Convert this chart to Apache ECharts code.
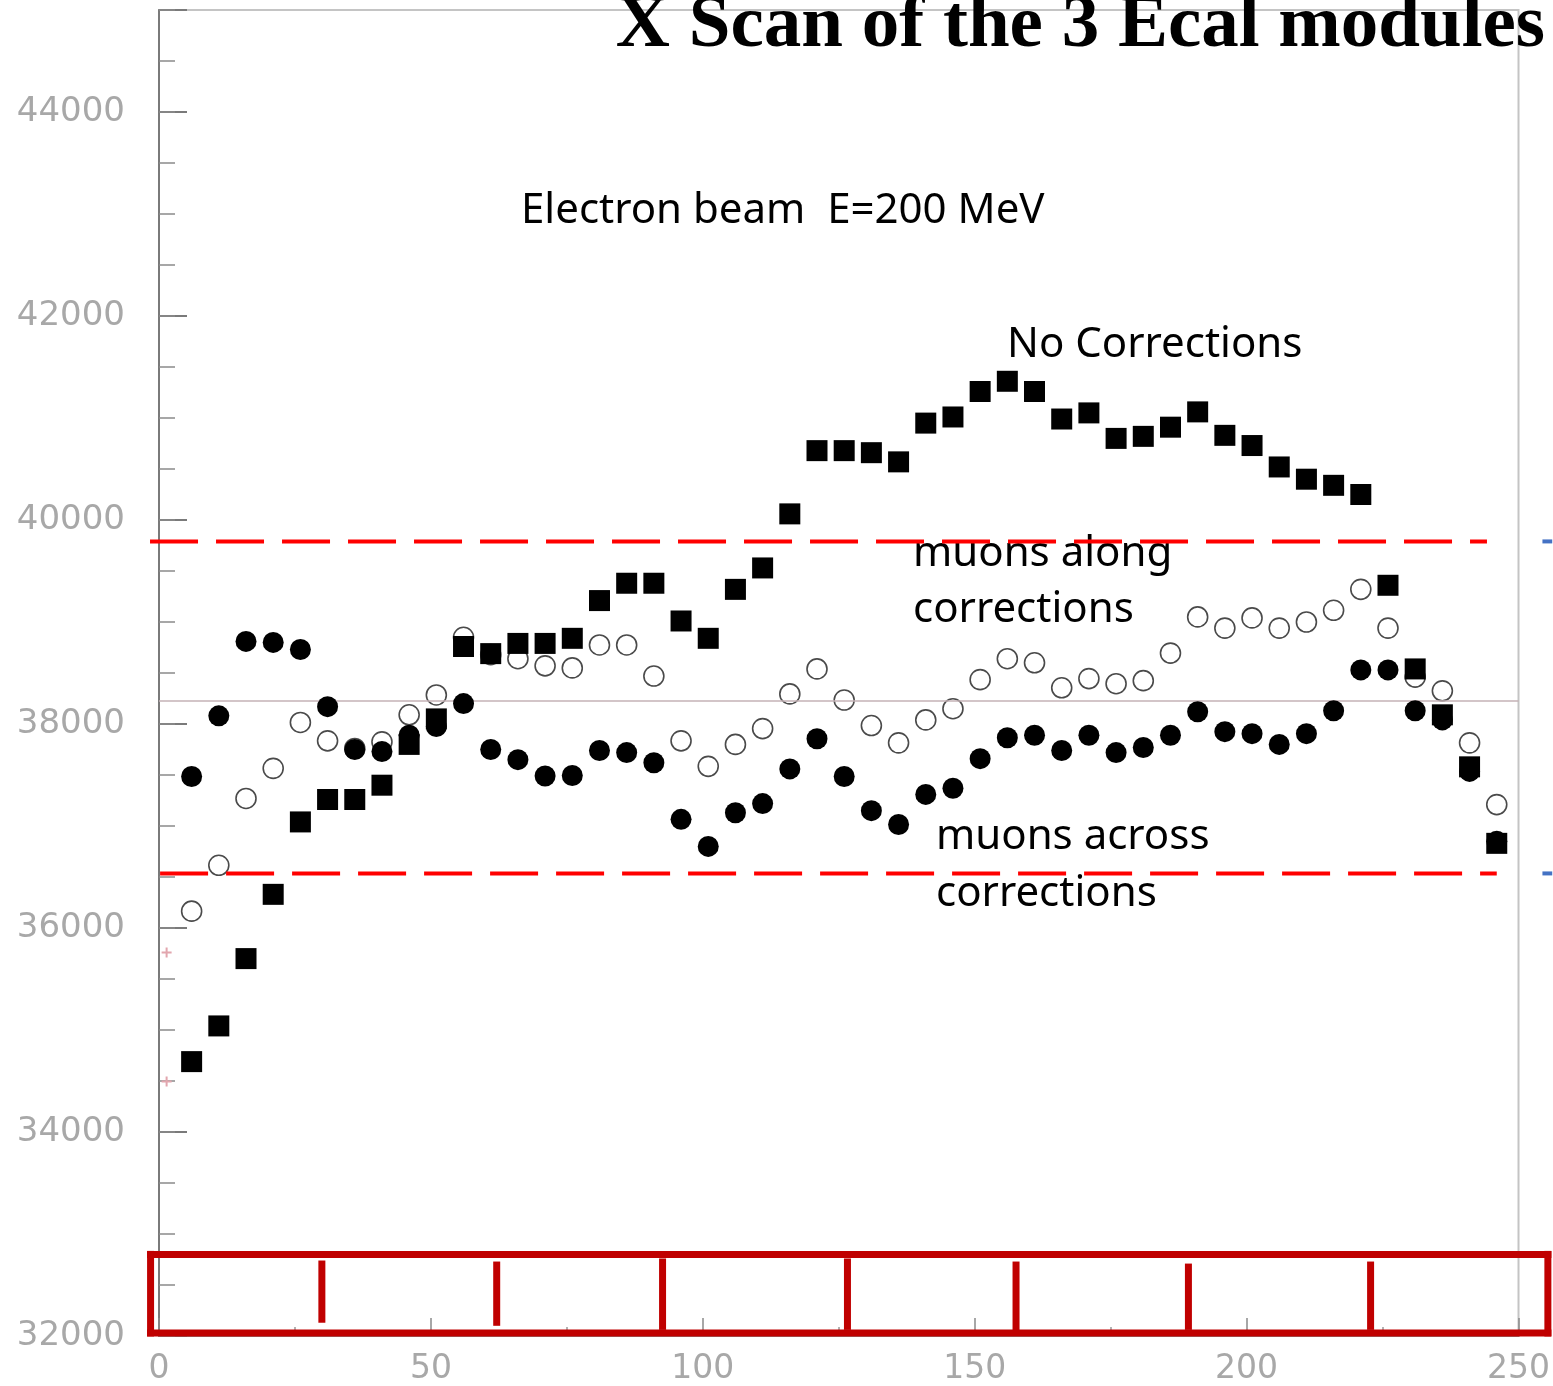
<!DOCTYPE html>
<html>
<head>
<meta charset="utf-8">
<script src="https://cdn.jsdelivr.net/npm/echarts@6/dist/echarts.min.js"></script>
<style>
  html, body { margin: 0; padding: 0; background: #fff; }
  #chart { width: 1553px; height: 1386px; }
</style>
</head>
<body>
<div id="chart"></div>
<script>
// scan position (x) for every measured point
const xScan = [6, 11, 16, 21, 26, 31, 36, 41, 46, 51, 56, 61, 66, 71, 76, 81, 86, 91, 96, 101,
  106, 111, 116, 121, 126, 131, 136, 141, 146, 151, 156, 161, 166, 171, 176, 181, 186, 191, 196, 201,
  206, 211, 216, 221, 226, 231, 236, 241, 246];

// filled squares
const noCorr = [34690, 35040, 35700, 36330, 37040, 37260, 37260, 37400, 37800, 38050,
  38760, 38690, 38790, 38790, 38840, 39210, 39380, 39380, 39010, 38840,
  39320, 39530, 40060, 40680, 40680, 40660, 40570, 40950, 41010, 41260,
  41360, 41260, 40990, 41050, 40800, 40820, 40910, 41060, 40830, 40730,
  40520, 40400, 40340, 40250, 39360, 38540, 38090, 37580, 36830];

// open circles
const alongCorr = [36165, 36615, 37270, 37565, 38015, 37835, 37760, 37825, 38090, 38285,
  38850, 38680, 38640, 38570, 38550, 38775, 38775, 38470, 37835, 37585,
  37800, 37955, 38295, 38540, 38235, 37985, 37815, 38040, 38150, 38435,
  38640, 38600, 38355, 38445, 38395, 38425, 38695, 39050, 38940, 39040,
  38940, 39000, 39115, 39320, 38940, 38460, 38325, 37815, 37210];

// filled circles
const acrossCorr = [37485, 38080, 38810, 38800, 38730, 38170, 37750, 37730, 37890, 37975,
  38200, 37750, 37650, 37490, 37495, 37740, 37720, 37620, 37065, 36800,
  37130, 37220, 37560, 37855, 37485, 37150, 37015, 37310, 37370, 37660,
  37865, 37890, 37740, 37890, 37720, 37770, 37890, 38120, 37925, 37905,
  37800, 37905, 38130, 38530, 38530, 38130, 38040, 37535, 36850];

// faint red crosses near the y axis
const crossX = [1.4, 1.4];
const crossY = [35760, 34495];

const yTicks = [32000, 34000, 36000, 38000, 40000, 42000, 44000];
const xTicks = [0, 50, 100, 150, 200, 250];

const meanLevel = 38225;
const upperCut = 39790;
const lowerCut = 36535;
const upperCutRange = [-1.65, 244.2];
const lowerCutRange = [0.2, 246];
const blueStub = [254.4, 256.2];

// module boundary box under the plot
const boxX = [-1.55, 255.4];
const boxY = [32030, 32800];
const dividerX = [29.95, 62.1, 92.6, 126.6, 157.6, 189.3, 222.8];
const dividerTop = [32740, 32730, 32760, 32760, 32730, 32710, 32730];
const dividerBottom = [32130, 32100, 32060, 32060, 32030, 32060, 32060];

const pts = arr => xScan.map((x, i) => [x, arr[i]]);

// line segments drawn in data units: [x1, y1, x2, y2, kind]
const segments = [];
segments.push([upperCutRange[0], upperCut, upperCutRange[1], upperCut, 'cut']);
segments.push([lowerCutRange[0], lowerCut, lowerCutRange[1], lowerCut, 'cut']);
segments.push([blueStub[0], upperCut, blueStub[1], upperCut, 'stub']);
segments.push([blueStub[0], lowerCut, blueStub[1], lowerCut, 'stub']);
segments.push([boxX[0], boxY[0], boxX[1], boxY[0], 'box']);
segments.push([boxX[0], boxY[1], boxX[1], boxY[1], 'box']);
segments.push([boxX[0], boxY[0], boxX[0], boxY[1], 'box']);
segments.push([boxX[1], boxY[0], boxX[1], boxY[1], 'box']);
dividerX.forEach((x, i) => segments.push([x, dividerBottom[i], x, dividerTop[i], 'divider']));

const segStyle = {
  cut: { stroke: '#ff0000', lineWidth: 4, lineDash: [48, 18] },
  stub: { stroke: '#4472c4', lineWidth: 4 },
  box: { stroke: '#c00000', lineWidth: 7, lineCap: 'square' },
  divider: { stroke: '#c00000', lineWidth: 7, lineCap: 'butt' }
};

const labelFont = 'DejaVu Sans';
const noteFont = '42px "Noto Sans"';

const chart = echarts.init(document.getElementById('chart'));

const noteText = (text, x, y) => ({
  type: 'text', x: x, y: y, z: 1,
  style: { text: text, fill: '#000', font: noteFont, textVerticalAlign: 'middle', verticalAlign: 'middle' }
});

const option = {
  animation: false,
  backgroundColor: '#fff',
  grid: {
    left: 159, right: 33, top: 10, bottom: 46,
    show: true, borderColor: '#c4c4c4', borderWidth: 2
  },
  xAxis: {
    type: 'value', min: 0, max: 250, interval: 50,
    axisLine: { lineStyle: { color: '#8a8a8a', width: 2 } },
    axisTick: { inside: true, length: 18, lineStyle: { color: '#8a8a8a', width: 1.5 } },
    minorTick: { show: true, splitNumber: 2, length: 9, lineStyle: { color: '#9a9a9a', width: 1.5 } },
    axisLabel: {
      margin: 17, fontSize: 33, fontFamily: labelFont, color: '#a8a8a8',
      formatter: v => (xTicks.includes(v) ? String(v) : '')
    },
    splitLine: { show: false }
  },
  yAxis: [
    {
      type: 'value', min: 32000, max: 45000, interval: 2000,
      axisLine: { show: true, lineStyle: { color: '#7a7a7a', width: 2 } },
      axisTick: { inside: true, length: 28, lineStyle: { color: '#7a7a7a', width: 2 } },
      axisLabel: {
        margin: 34, fontSize: 34, fontFamily: labelFont, color: '#a8a8a8',
        formatter: v => (yTicks.includes(v) ? String(v) : '')
      },
      splitLine: { show: false }
    },
    {
      type: 'value', min: 32000, max: 45000, interval: 500, position: 'left',
      axisLine: { show: false },
      axisTick: { inside: true, length: 16, lineStyle: { color: '#8a8a8a', width: 1.5 } },
      axisLabel: { show: false },
      splitLine: { show: false }
    }
  ],
  graphic: [
    {
      type: 'text', x: 1545, y: 27, z: 100,
      style: {
        text: 'X Scan of the 3 Ecal modules', fill: '#000',
        font: 'bold 75px "Liberation Serif"',
        textAlign: 'right', textVerticalAlign: 'middle', align: 'right', verticalAlign: 'middle'
      }
    },
    noteText('Electron beam  E=200 MeV', 521, 211),
    noteText('No Corrections', 1007, 345),
    noteText('muons along', 913, 554),
    noteText('corrections', 913, 610),
    noteText('muons across', 936, 837),
    noteText('corrections', 936, 894)
  ],
  series: [
    {
      name: 'mean',
      type: 'scatter',
      data: [],
      markLine: {
        silent: true, symbol: 'none', label: { show: false },
        lineStyle: { color: '#c4b2b6', width: 1.5, type: 'solid' },
        data: [{ yAxis: meanLevel }]
      }
    },
    {
      name: 'muons along corrections',
      type: 'scatter',
      symbol: 'circle', symbolSize: 20,
      itemStyle: { color: 'rgba(255,255,255,0)', borderColor: '#4a4a4a', borderWidth: 1.6, opacity: 1 },
      data: pts(alongCorr),
      z: 3
    },
    {
      name: 'No Corrections',
      type: 'scatter',
      symbol: 'rect', symbolSize: 21,
      itemStyle: { color: '#000', opacity: 1 },
      data: pts(noCorr),
      z: 4
    },
    {
      name: 'muons across corrections',
      type: 'scatter',
      symbol: 'circle', symbolSize: 21,
      itemStyle: { color: '#000', opacity: 1 },
      data: pts(acrossCorr),
      z: 5
    },
    {
      name: 'cross',
      type: 'scatter',
      symbol: 'path://M4,0H6V4H10V6H6V10H4V6H0V4H4Z', symbolSize: 10,
      itemStyle: { color: '#e2a6ae', opacity: 1 },
      data: crossX.map((x, i) => [x, crossY[i]]),
      z: 3
    },
    {
      name: 'annotations',
      type: 'custom',
      clip: false,
      silent: true,
      z: 6,
      data: segments,
      encode: { x: [0, 2], y: [1, 3] },
      renderItem: (params, api) => {
        const p1 = api.coord([api.value(0), api.value(1)]);
        const p2 = api.coord([api.value(2), api.value(3)]);
        const kind = segments[params.dataIndex][4];
        return {
          type: 'line',
          shape: { x1: p1[0], y1: p1[1], x2: p2[0], y2: p2[1] },
          style: Object.assign({ fill: null }, segStyle[kind])
        };
      }
    }
  ]
};

chart.setOption(option);
</script>
</body>
</html>
